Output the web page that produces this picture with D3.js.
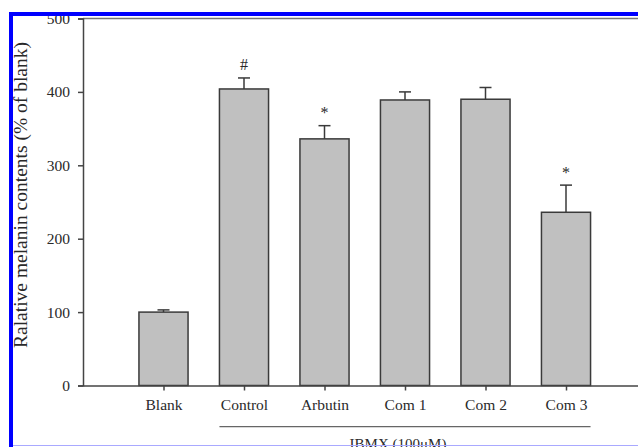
<!DOCTYPE html>
<html>
<head>
<meta charset="utf-8">
<script src="https://cdn.jsdelivr.net/npm/d3@7"></script>
<style>
  html, body { margin: 0; padding: 0; background: #fff; }
  svg { display: block; }
  text { font-family: "Liberation Serif", "Times New Roman", serif; fill: #2a2a2a; }
</style>
</head>
<body>
<svg id="chart" width="638" height="447"></svg>
<script>
// Melanin content per treatment group (% of blank), mean and SE
const categories = ["Blank", "Control", "Arbutin", "Com 1", "Com 2", "Com 3"];
const means = [100, 404, 336, 389, 390, 236];
const errors = [3, 15, 18, 11, 16, 37];
const markers = ["", "#", "*", "", "", "*"];
const yTicks = [0, 100, 200, 300, 400, 500];
const yTitle = "Ralative melanin contents (% of blank)";
const groupLabel = "IBMX (100\u03bcM)";

const svg = d3.select("#chart");
const W = 638, H = 447;

const plot = { left: 83, right: 646.5, top: 18.5, bottom: 385.5 };

const x = d3.scalePoint()
  .domain(categories)
  .range([plot.left, plot.right])
  .padding(1);
const barW = x.step() * 0.61;

const y = d3.scaleLinear()
  .domain([0, 500])
  .range([plot.bottom, plot.top]);

const data = categories.map((c, i) => ({ c, m: means[i], e: errors[i], mark: markers[i] }));

// top frame line
svg.append("line")
  .attr("x1", plot.left).attr("x2", plot.right)
  .attr("y1", plot.top).attr("y2", plot.top)
  .attr("stroke", "#777").attr("stroke-width", 1.5);

// bars
svg.append("g").selectAll("rect").data(data).join("rect")
  .attr("x", d => x(d.c) - barW / 2)
  .attr("y", d => y(d.m))
  .attr("width", barW)
  .attr("height", d => y(0) - y(d.m))
  .attr("fill", "#c0c0c0")
  .attr("stroke", "#3a3a3a")
  .attr("stroke-width", 1.5);

// upper error bars
const eb = svg.append("g").attr("stroke", "#3a3a3a").attr("stroke-width", 1.5);
eb.selectAll("line.v").data(data).join("line").attr("class", "v")
  .attr("x1", d => x(d.c)).attr("x2", d => x(d.c))
  .attr("y1", d => y(d.m)).attr("y2", d => y(d.m + d.e));
eb.selectAll("line.cap").data(data).join("line").attr("class", "cap")
  .attr("x1", d => x(d.c) - 6).attr("x2", d => x(d.c) + 6)
  .attr("y1", d => y(d.m + d.e)).attr("y2", d => y(d.m + d.e));

// significance marks
svg.append("g").selectAll("text").data(data.filter(d => d.mark)).join("text")
  .attr("x", d => x(d.c))
  .attr("y", d => y(d.m + d.e) - 7.5)
  .attr("text-anchor", "middle")
  .attr("font-size", 16)
  .text(d => d.mark);

// y axis
const yAxis = svg.append("g")
  .attr("transform", `translate(${plot.left},0)`)
  .call(d3.axisLeft(y).tickValues(yTicks).tickSize(5).tickPadding(8));
yAxis.select(".domain").attr("stroke", "#444").attr("stroke-width", 1.5);
yAxis.selectAll(".tick line").attr("stroke", "#444").attr("stroke-width", 1.5);
yAxis.selectAll(".tick text")
  .attr("font-family", "Liberation Serif, serif")
  .attr("font-size", 15.5)
  .attr("fill", "#2a2a2a");

// x axis
const xAxis = svg.append("g")
  .attr("transform", `translate(0,${plot.bottom})`)
  .call(d3.axisBottom(x).tickSize(5).tickPadding(8).tickSizeOuter(0));
xAxis.select(".domain").attr("stroke", "#444").attr("stroke-width", 1.5);
xAxis.selectAll(".tick line").attr("stroke", "#444").attr("stroke-width", 1.5);
xAxis.selectAll(".tick text")
  .attr("font-family", "Liberation Serif, serif")
  .attr("font-size", 15.5)
  .attr("fill", "#2a2a2a");

// y title
svg.append("text")
  .attr("transform", `translate(27,${(42 + 348) / 2}) rotate(-90)`)
  .attr("text-anchor", "middle")
  .attr("font-size", 19.5)
  .text(yTitle);

// treatment group bracket
const gx1 = x("Control") - barW / 2, gx2 = x("Com 3") + barW / 2;
svg.append("line")
  .attr("x1", gx1).attr("x2", gx2)
  .attr("y1", 426.7).attr("y2", 426.7)
  .attr("stroke", "#666").attr("stroke-width", 1.3);
svg.append("text")
  .attr("x", 398).attr("y", 449)
  .attr("text-anchor", "middle")
  .attr("font-size", 15)
  .text(groupLabel);

// page frame
svg.append("rect").attr("x", 0).attr("y", 0).attr("width", W).attr("height", 12).attr("fill", "#fff");
svg.append("rect").attr("x", 0).attr("y", 0).attr("width", 9).attr("height", H).attr("fill", "#fff");
svg.append("rect").attr("x", 9).attr("y", 12).attr("width", W - 9).attr("height", 4).attr("fill", "#0000ff");
svg.append("rect").attr("x", 9).attr("y", 12).attr("width", 4).attr("height", H - 12).attr("fill", "#0000ff");
svg.append("line")
  .attr("x1", 13).attr("x2", W).attr("y1", 445.5).attr("y2", 445.5)
  .attr("stroke", "#a9a9ff").attr("stroke-width", 1.2);
</script>
</body>
</html>
